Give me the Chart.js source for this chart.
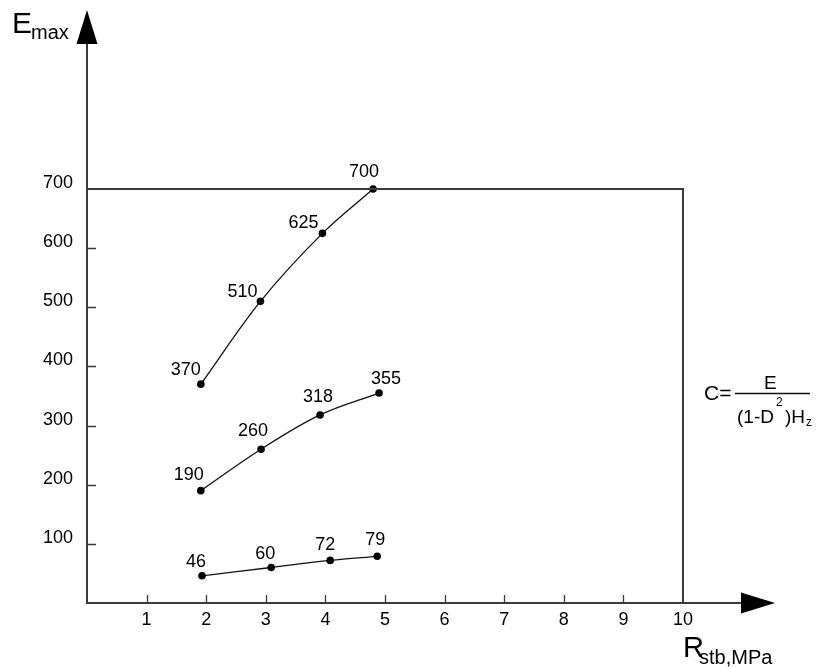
<!DOCTYPE html>
<html>
<head>
<meta charset="utf-8">
<script src="https://cdn.jsdelivr.net/npm/chart.js@4.4.1/dist/chart.umd.min.js"></script>
<style>
  html, body { margin: 0; padding: 0; background: #fff; }
  canvas { display: block; }
</style>
</head>
<body>
<canvas id="c" width="819" height="668"></canvas>
<script>
// ---- data ----
const xTickValues = [1, 2, 3, 4, 5, 6, 7, 8, 9, 10];
const yTickValues = [100, 200, 300, 400, 500, 600, 700];

const upperX = [1.91, 2.91, 3.95, 4.80];
const upperY = [370, 510, 625, 700];

const middleX = [1.91, 2.92, 3.91, 4.90];
const middleY = [190, 260, 318, 355];

const lowerX = [1.93, 3.09, 4.08, 4.87];
const lowerY = [46, 60, 72, 79];

const yTitleMain = 'E', yTitleSub = 'max';
const xTitleMain = 'R', xTitleSub = 'stb,MPa';

// ---- label placement (style, not data) ----
const labelOffsets = [
  [[-15, -14], [-18, -9], [-19, -10], [-9, -17]],
  [[-12, -16], [-8, -18], [-2, -18], [7, -14]],
  [[-6, -14], [-6, -13], [-5, -15], [-2, -16]]
];

const FONT = 'Arial, "Liberation Sans", sans-serif';
const AXIS_COLOR = '#3a3a3a';

function toPoints(xs, ys) { return xs.map((x, i) => ({ x: x, y: ys[i] })); }

function lineDataset(xs, ys) {
  return {
    data: toPoints(xs, ys),
    showLine: true,
    borderColor: '#111',
    backgroundColor: '#000',
    borderWidth: 1.3,
    pointRadius: 3.8,
    pointHoverRadius: 3.8,
    pointBackgroundColor: '#000',
    pointBorderWidth: 0,
    tension: 0.35,
    fill: false,
    clip: false
  };
}

const decorPlugin = {
  id: 'decor',
  afterDraw(chart) {
    const ctx = chart.ctx;
    const xs = chart.scales.x, ys = chart.scales.y;
    const x0 = xs.getPixelForValue(0), y0 = ys.getPixelForValue(0);
    const xMax = xs.getPixelForValue(10), yMax = ys.getPixelForValue(700);
    ctx.save();
    ctx.strokeStyle = AXIS_COLOR;
    ctx.lineWidth = 2;
    ctx.lineCap = 'butt';
    // axes
    ctx.beginPath();
    ctx.moveTo(x0, y0 + 1); ctx.lineTo(x0, 44);
    ctx.moveTo(x0 - 1, y0); ctx.lineTo(741, y0);
    // frame
    ctx.moveTo(x0, yMax); ctx.lineTo(xMax + 1, yMax);
    ctx.moveTo(xMax, yMax); ctx.lineTo(xMax, y0);
    ctx.stroke();
    // inward tick marks
    ctx.lineWidth = 1.3;
    ctx.beginPath();
    xTickValues.forEach(v => {
      if (v === 10) return;
      const px = Math.round(xs.getPixelForValue(v)) + 0.5;
      ctx.moveTo(px, y0); ctx.lineTo(px, y0 - 8);
    });
    yTickValues.forEach(v => {
      if (v === 700) return;
      const py = Math.round(ys.getPixelForValue(v)) + 0.5;
      ctx.moveTo(x0, py); ctx.lineTo(x0 + 9, py);
    });
    ctx.stroke();
    // arrows
    ctx.fillStyle = '#000';
    ctx.beginPath();
    ctx.moveTo(x0, 10); ctx.lineTo(x0 + 10.5, 44); ctx.lineTo(x0 - 10.5, 44); ctx.closePath();
    ctx.fill();
    ctx.beginPath();
    ctx.moveTo(775, y0); ctx.lineTo(741, y0 - 10.5); ctx.lineTo(741, y0 + 10.5); ctx.closePath();
    ctx.fill();

    // point labels
    ctx.fillStyle = '#000';
    ctx.font = '18px ' + FONT;
    ctx.textAlign = 'center';
    ctx.textBaseline = 'middle';
    chart.data.datasets.forEach((ds, di) => {
      const meta = chart.getDatasetMeta(di);
      meta.data.forEach((pt, i) => {
        const off = labelOffsets[di][i];
        ctx.fillText(String(ds.data[i].y), pt.x + off[0], pt.y + off[1]);
      });
    });

    // axis titles
    ctx.textAlign = 'left';
    ctx.textBaseline = 'alphabetic';
    ctx.font = '30px ' + FONT;
    ctx.fillText(yTitleMain, 12, 33);
    ctx.font = '20px ' + FONT;
    ctx.fillText(yTitleSub, 31, 39);
    ctx.font = '29px ' + FONT;
    ctx.fillText(xTitleMain, 683, 657);
    ctx.font = '20px ' + FONT;
    ctx.fillText(xTitleSub, 699, 664);

    // formula
    ctx.font = '21px ' + FONT;
    ctx.textBaseline = 'middle';
    ctx.fillText('C=', 704, 394);
    ctx.lineWidth = 1.3;
    ctx.strokeStyle = '#111';
    ctx.beginPath();
    ctx.moveTo(735, 393.5); ctx.lineTo(810, 393.5);
    ctx.stroke();
    ctx.textBaseline = 'alphabetic';
    ctx.font = '19px ' + FONT;
    ctx.fillText('E', 764, 389);
    ctx.fillText('(1-D', 737, 423);
    ctx.font = '12px ' + FONT;
    ctx.fillText('2', 776, 406);
    ctx.font = '19px ' + FONT;
    ctx.fillText(')H', 785, 423);
    ctx.font = '12px ' + FONT;
    ctx.fillText('z', 806, 426);
    ctx.restore();
  }
};

new Chart(document.getElementById('c'), {
  type: 'scatter',
  data: {
    datasets: [
      lineDataset(upperX, upperY),
      lineDataset(middleX, middleY),
      lineDataset(lowerX, lowerY)
    ]
  },
  options: {
    responsive: false,
    animation: false,
    events: [],
    layout: { padding: { left: 0, top: 189, right: 136, bottom: 25 } },
    plugins: { legend: { display: false }, tooltip: { enabled: false } },
    scales: {
      x: {
        type: 'linear',
        min: 0, max: 10,
        afterBuildTicks(scale) { scale.ticks = xTickValues.map(v => ({ value: v })); },
        afterFit(scale) { scale.height = 40; },
        grid: { display: false, drawTicks: false },
        border: { display: false },
        ticks: {
          padding: 6,
          color: '#000',
          font: { family: FONT, size: 18 },
          maxRotation: 0,
          autoSkip: false
        }
      },
      y: {
        type: 'linear',
        min: 0, max: 700,
        afterBuildTicks(scale) { scale.ticks = yTickValues.map(v => ({ value: v })); },
        afterFit(scale) { scale.width = 87; },
        grid: { display: false, drawTicks: false },
        border: { display: false },
        ticks: {
          padding: 14,
          labelOffset: -6,
          color: '#000',
          font: { family: FONT, size: 18 },
          autoSkip: false
        }
      }
    }
  },
  plugins: [decorPlugin]
});
</script>
</body>
</html>
